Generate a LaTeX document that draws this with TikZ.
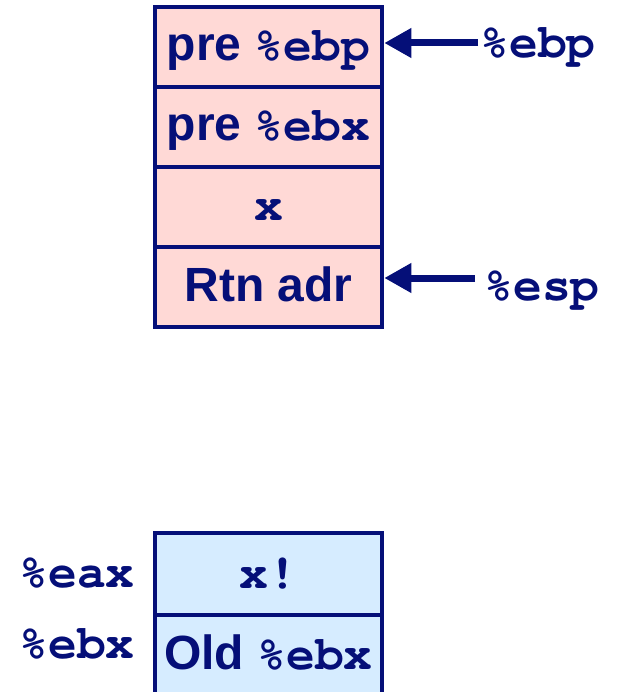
\documentclass[tikz,border=0pt]{standalone}
\usepackage{fontspec}
\setmainfont{Liberation Sans}
\newfontfamily\cmono{TeX Gyre Cursor}
\usetikzlibrary{arrows.meta}
\definecolor{navy}{RGB}{5,15,120}
\definecolor{pinkfill}{RGB}{255,217,214}
\definecolor{bluefill}{RGB}{214,236,255}
\begin{document}
\begin{tikzpicture}[x=1pt,y=-1pt,
  cell/.style={draw=navy, line width=4.5pt, minimum width=227pt, minimum height=80pt,
    inner sep=0pt, text height=33pt, text depth=5pt, text=navy,
    font=\fontsize{48}{48}\selectfont\bfseries},
  redcell/.style={cell, fill=pinkfill},
  bluecell/.style={cell, fill=bluefill},
  lbl/.style={inner sep=0pt, anchor=base, text=navy, font=\fontsize{48}{48}\selectfont\bfseries\cmono},
  ptr/.style={draw=navy, line width=7pt, -{Triangle[length=27pt,width=28pt]}}
]
\useasboundingbox (0,0) rectangle (616,692);
% upper stack
\node[redcell] (r1) at (268.5,47) {pre {\cmono\%ebp}};
\node[redcell] (r2) at (268.5,127) {pre {\cmono\%ebx}};
\node[redcell] (r3) at (268.5,207) {\cmono x};
\node[redcell] (r4) at (268.5,287) {Rtn adr};
% pointer labels
\node[lbl] (lebp) at (538,58) {\%ebp};
\node[lbl] (lesp) at (542,300) {\%esp};
\coordinate (ebptail) at (478,43);
\coordinate (esptail) at (475,278);
\draw[ptr] (ebptail) -- (ebptail -| r1.east);
\draw[ptr] (esptail) -- (esptail -| r4.east);
% lower registers
\node[bluecell, minimum height=82pt] (b1) at (268.5,574) {\cmono x!};
\node[bluecell] (b2) at (268.5,655) {Old {\cmono\%ebx}};
\node[lbl] (leax) at (77,587) {\%eax};
\node[lbl] (lebx) at (77,658) {\%ebx};
\end{tikzpicture}
\end{document}
